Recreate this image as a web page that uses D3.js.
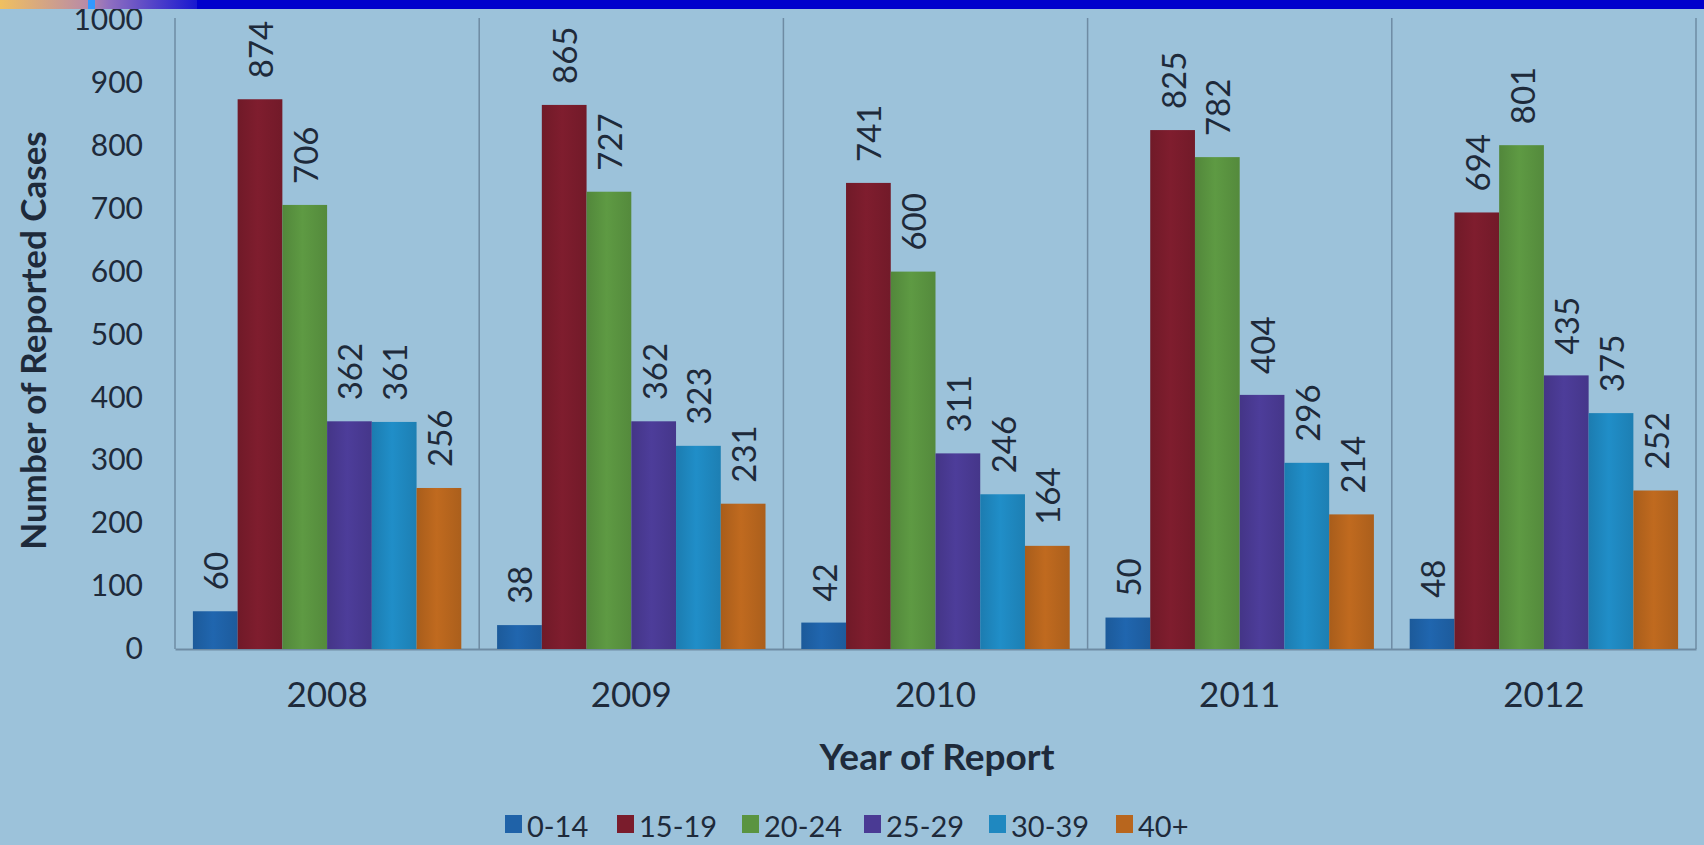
<!DOCTYPE html>
<html><head><meta charset="utf-8">
<script src="https://cdn.jsdelivr.net/npm/d3@7"></script>
<style>
html,body{margin:0;padding:0;background:#9CC2DA;}
svg{display:block;}
text{font-family:Lato,"Open Sans",sans-serif;}
</style></head>
<body>
<svg id="chart" width="1704" height="845"></svg>
<script>
const years = ["2008","2009","2010","2011","2012"];
const ageGroups = ["0-14","15-19","20-24","25-29","30-39","40+"];
const cases0_14  = [60, 38, 42, 50, 48];
const cases15_19 = [874, 865, 741, 825, 694];
const cases20_24 = [706, 727, 600, 782, 801];
const cases25_29 = [362, 362, 311, 404, 435];
const cases30_39 = [361, 323, 246, 296, 375];
const cases40p   = [256, 231, 164, 214, 252];
const yTicks = [0,100,200,300,400,500,600,700,800,900,1000];
const colors = ["#1F62A8","#7A1C2C","#5A9440","#4A3A94","#1F88C0","#B8661E"];

const seriesValues = [cases0_14, cases15_19, cases20_24, cases25_29, cases30_39, cases40p];
const data = years.map((yr, i) => ({year: yr, values: ageGroups.map((g, j) => ({group: g, value: seriesValues[j][i], color: colors[j]}))}));

const svg = d3.select("#chart");
const W = 1704, H = 845;
const plot = {left: 175, right: 1696, top: 20, bottom: 649};
const textColor = "#1E2A3A";

svg.append("rect").attr("width", W).attr("height", H).attr("fill", "#9CC2DA");

const x0 = d3.scaleBand().domain(years).range([plot.left, plot.right]).padding(0);
const x1 = d3.scaleBand().domain(ageGroups).range([0, x0.bandwidth()]).paddingInner(0).paddingOuter(0.4);
const y = d3.scaleLinear().domain([0, 1000]).range([plot.bottom, plot.top]);

// gradients for bars
const defs = svg.append("defs");
colors.forEach((c, j) => {
  const g = defs.append("linearGradient").attr("id", "g" + j).attr("x1", 0).attr("x2", 1).attr("y1", 0).attr("y2", 0);
  const base = d3.color(c);
  g.append("stop").attr("offset", "0%").attr("stop-color", base.darker(0.25));
  g.append("stop").attr("offset", "45%").attr("stop-color", base.brighter(0.12));
  g.append("stop").attr("offset", "100%").attr("stop-color", base.darker(0.2));
});

// separators
const sepPositions = years.map(yv => x0(yv)).concat([plot.right]);
svg.append("g").selectAll("line").data(sepPositions).join("line")
  .attr("x1", d => d).attr("x2", d => d)
  .attr("y1", 18).attr("y2", plot.bottom)
  .attr("stroke", "#6E8BA3").attr("stroke-width", 1.5);

// y axis
const yAxis = d3.axisLeft(y).tickValues(yTicks).tickFormat(d3.format("d")).tickSize(0).tickPadding(0);
const yg = svg.append("g").attr("transform", `translate(${plot.left - 32},0)`).call(yAxis);
yg.select(".domain").remove();
yg.selectAll("text").attr("fill", textColor).style("font-size", "30px").style("font-family", "Lato, sans-serif");

// x axis
const xAxis = d3.axisBottom(x0).tickSize(0).tickPadding(0);
const xg = svg.append("g").attr("transform", `translate(0,${plot.bottom})`).call(xAxis);
xg.select(".domain").attr("stroke", "#6E8BA3").attr("stroke-width", 2);
xg.selectAll("text").attr("fill", textColor).attr("dy", "0").attr("y", 58)
  .style("font-size", "35px").style("font-family", "Lato, sans-serif");

// bars
const groups = svg.append("g").selectAll("g").data(data).join("g")
  .attr("transform", d => `translate(${x0(d.year)},0)`);
groups.selectAll("rect").data(d => d.values).join("rect")
  .attr("x", d => x1(d.group))
  .attr("width", x1.bandwidth())
  .attr("y", d => y(d.value))
  .attr("height", d => y(0) - y(d.value))
  .attr("fill", d => `url(#g${ageGroups.indexOf(d.group)})`);

// value labels
groups.selectAll("text.val").data(d => d.values).join("text")
  .attr("class", "val")
  .attr("transform", d => `translate(${x1(d.group) + x1.bandwidth()/2},${y(d.value) - 21}) rotate(-90)`)
  .attr("text-anchor", "start")
  .attr("dominant-baseline", "central")
  .attr("fill", textColor)
  .style("font-size", "33px")
  .text(d => d.value);

// axis titles
svg.append("text")
  .attr("transform", `translate(32,${(plot.top + plot.bottom)/2 + 6}) rotate(-90)`)
  .attr("text-anchor", "middle").attr("dominant-baseline", "central")
  .attr("fill", textColor).style("font-weight", "bold").style("font-size", "35px")
  .text("Number of Reported Cases");

svg.append("text")
  .attr("x", 937).attr("y", 755)
  .attr("text-anchor", "middle").attr("dominant-baseline", "central")
  .attr("fill", textColor).style("font-weight", "bold").style("font-size", "37px")
  .text("Year of Report");

// legend
const legendX = d3.scaleOrdinal().domain(ageGroups).range([505, 617, 742, 864, 989, 1116]);
const lg = svg.append("g").selectAll("g").data(ageGroups).join("g")
  .attr("transform", d => `translate(${legendX(d)},824)`);
lg.append("rect").attr("x", 0).attr("y", -9).attr("width", 17).attr("height", 18)
  .attr("fill", (d, i) => colors[i]);
lg.append("text").attr("x", 22).attr("y", 1).attr("dominant-baseline", "central")
  .attr("fill", textColor).style("font-size", "29px").text(d => d);

// top banner
const bg = defs.append("linearGradient").attr("id", "banner").attr("x1", 0).attr("x2", 1);
bg.append("stop").attr("offset", "0%").attr("stop-color", "#F0C060");
bg.append("stop").attr("offset", "45%").attr("stop-color", "#B88AA8");
bg.append("stop").attr("offset", "55%").attr("stop-color", "#9070C0");
bg.append("stop").attr("offset", "100%").attr("stop-color", "#1818D0");
svg.append("rect").attr("x", 0).attr("y", 0).attr("width", 197).attr("height", 9).attr("fill", "url(#banner)");
svg.append("rect").attr("x", 197).attr("y", 0).attr("width", W - 197).attr("height", 9).attr("fill", "#0000CC");
svg.append("rect").attr("x", 88).attr("y", 0).attr("width", 7).attr("height", 9).attr("fill", "#3399FF");
</script>
</body></html>
